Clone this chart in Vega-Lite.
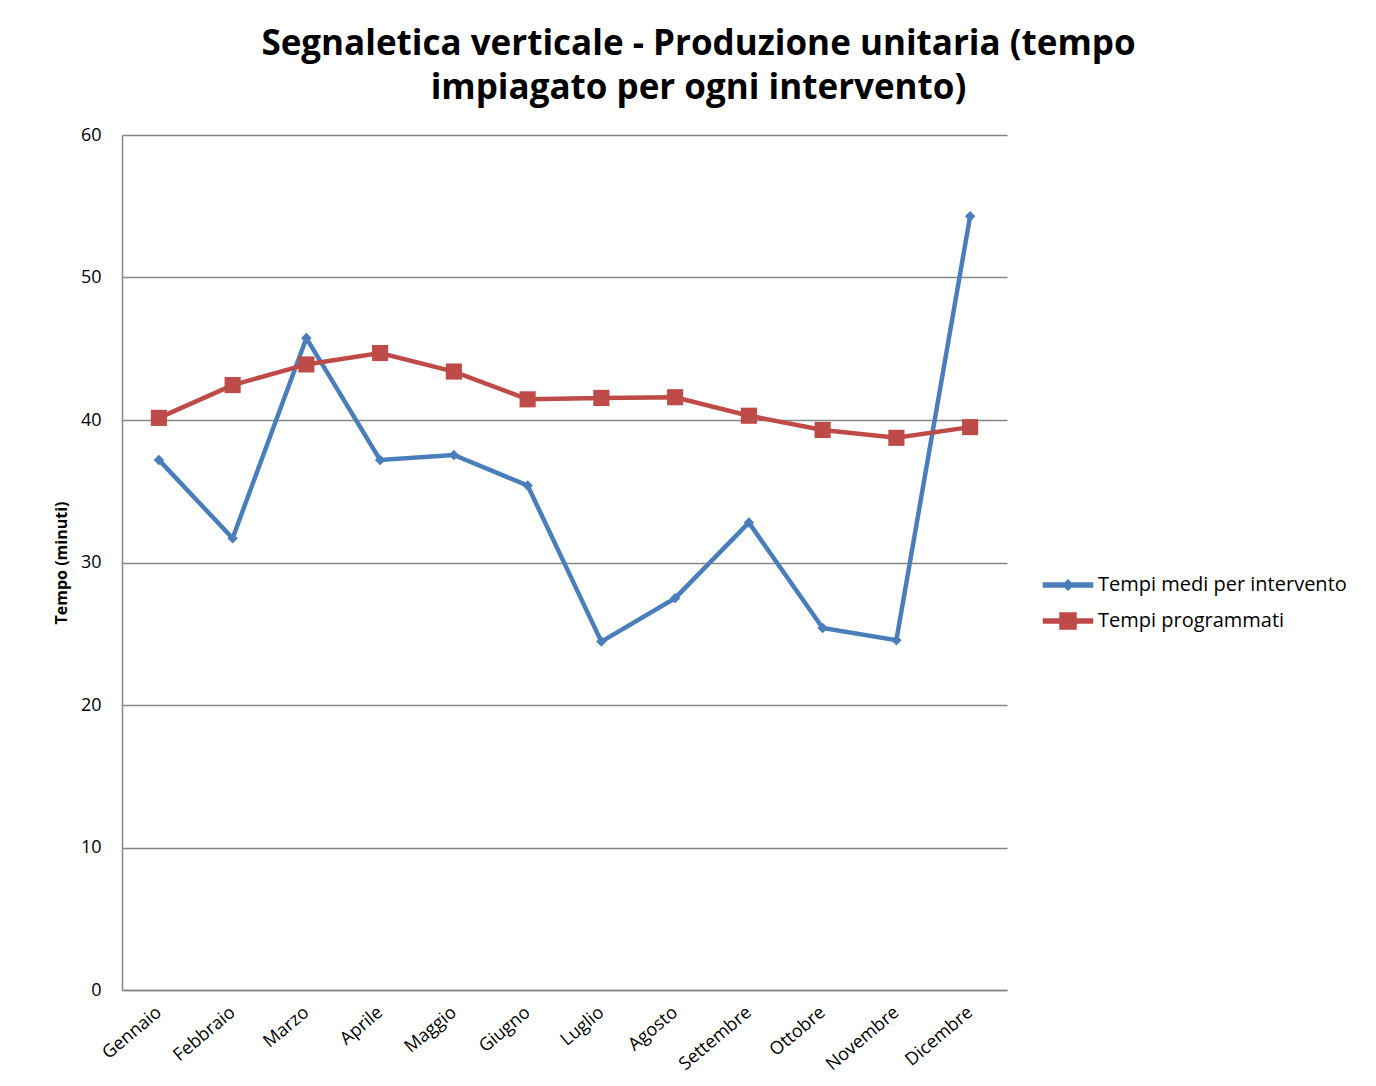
{
  "$schema": "https://vega.github.io/schema/vega-lite/v6.json",
  "autosize": "none",
  "width": 885,
  "height": 855,
  "padding": {"left": 122, "top": 135, "right": 369, "bottom": 96},
  "background": "white",
  "title": {
    "text": ["Segnaletica verticale - Produzione unitaria (tempo", "impiagato per ogni intervento)"],
    "font": "Open Sans",
    "fontSize": 35,
    "fontWeight": "bold",
    "color": "#000000",
    "anchor": "middle",
    "frame": "group",
    "dx": 134,
    "offset": 20,
    "lineHeight": 44
  },
  "config": {
    "view": {"stroke": null},
    "font": "Open Sans"
  },
  "data": {
    "values": [
      {"mese": "Gennaio", "serie": "Tempi medi per intervento", "valore": 37.2},
      {"mese": "Febbraio", "serie": "Tempi medi per intervento", "valore": 31.7},
      {"mese": "Marzo", "serie": "Tempi medi per intervento", "valore": 45.75},
      {"mese": "Aprile", "serie": "Tempi medi per intervento", "valore": 37.2},
      {"mese": "Maggio", "serie": "Tempi medi per intervento", "valore": 37.55},
      {"mese": "Giugno", "serie": "Tempi medi per intervento", "valore": 35.4},
      {"mese": "Luglio", "serie": "Tempi medi per intervento", "valore": 24.45},
      {"mese": "Agosto", "serie": "Tempi medi per intervento", "valore": 27.5},
      {"mese": "Settembre", "serie": "Tempi medi per intervento", "valore": 32.8},
      {"mese": "Ottobre", "serie": "Tempi medi per intervento", "valore": 25.4},
      {"mese": "Novembre", "serie": "Tempi medi per intervento", "valore": 24.55},
      {"mese": "Dicembre", "serie": "Tempi medi per intervento", "valore": 54.3},
      {"mese": "Gennaio", "serie": "Tempi programmati", "valore": 40.15},
      {"mese": "Febbraio", "serie": "Tempi programmati", "valore": 42.45},
      {"mese": "Marzo", "serie": "Tempi programmati", "valore": 43.9},
      {"mese": "Aprile", "serie": "Tempi programmati", "valore": 44.7},
      {"mese": "Maggio", "serie": "Tempi programmati", "valore": 43.4},
      {"mese": "Giugno", "serie": "Tempi programmati", "valore": 41.45},
      {"mese": "Luglio", "serie": "Tempi programmati", "valore": 41.55},
      {"mese": "Agosto", "serie": "Tempi programmati", "valore": 41.6},
      {"mese": "Settembre", "serie": "Tempi programmati", "valore": 40.3},
      {"mese": "Ottobre", "serie": "Tempi programmati", "valore": 39.3},
      {"mese": "Novembre", "serie": "Tempi programmati", "valore": 38.75},
      {"mese": "Dicembre", "serie": "Tempi programmati", "valore": 39.5}
    ]
  },
  "encoding": {
    "x": {
      "field": "mese",
      "type": "ordinal",
      "sort": ["Gennaio", "Febbraio", "Marzo", "Aprile", "Maggio", "Giugno", "Luglio", "Agosto", "Settembre", "Ottobre", "Novembre", "Dicembre"],
      "scale": {"type": "point", "padding": 0.5},
      "axis": {
        "title": null,
        "labelAngle": -40,
        "labelAlign": "right",
        "labelBaseline": "middle",
        "labelPadding": 20,
        "labelFontSize": 18,
        "labelColor": "#000000",
        "labelFont": "Open Sans",
        "ticks": false,
        "domainColor": "#868686",
        "domainWidth": 1.5,
        "grid": false
      }
    },
    "y": {
      "field": "valore",
      "type": "quantitative",
      "scale": {"domain": [0, 60], "nice": false},
      "axis": {
        "title": "Tempo (minuti)",
        "titleFontSize": 16,
        "titleFont": "Open Sans",
        "titleFontWeight": "bold",
        "titleColor": "#000000",
        "titlePadding": 11,
        "values": [0, 10, 20, 30, 40, 50, 60],
        "labelFontSize": 18,
        "labelColor": "#000000",
        "labelFont": "Open Sans",
        "labelPadding": 21,
        "ticks": false,
        "domainColor": "#868686",
        "domainWidth": 1.5,
        "gridColor": "#868686",
        "gridWidth": 1.5,
        "gridOpacity": 1
      }
    },
    "color": {
      "field": "serie",
      "type": "nominal",
      "scale": {"domain": ["Tempi medi per intervento", "Tempi programmati"], "range": ["#4A7EBB", "#BE4B48"]},
      "legend": {
        "title": null,
        "orient": "none",
        "legendX": 935,
        "legendY": 439,
        "padding": 0,
        "symbolSize": 400,
        "labelOffset": 19,
        "labelLimit": 500,
        "labelFontSize": 20,
        "labelFont": "Open Sans",
        "labelColor": "#000000",
        "rowPadding": 15,
        "encode": {
          "symbols": {
            "update": {
              "shape": {"signal": "datum.value === 'Tempi programmati' ? 'M-2.45,-0.2H2.45V0.2H-2.45ZM-0.8,-0.8H0.8V0.8H-0.8Z' : 'M-2.45,-0.2H2.45V0.2H-2.45ZM0,-0.5L0.5,0L0,0.5L-0.5,0Z'"},
              "size": {"value": 400},
              "fill": {"signal": "datum.value === 'Tempi programmati' ? '#BE4B48' : '#4A7EBB'"},
              "stroke": {"value": "transparent"},
              "fillOpacity": {"value": 1}
            }
          }
        }
      }
    }
  },
  "layer": [
    {
      "mark": {"type": "line", "strokeWidth": 4.5}
    },
    {
      "transform": [{"filter": "datum.serie === 'Tempi medi per intervento'"}],
      "mark": {"type": "point", "filled": true, "opacity": 1, "shape": "diamond", "size": 110}
    },
    {
      "transform": [{"filter": "datum.serie === 'Tempi programmati'"}],
      "mark": {"type": "point", "filled": true, "opacity": 1, "shape": "square", "size": 260}
    }
  ]
}
